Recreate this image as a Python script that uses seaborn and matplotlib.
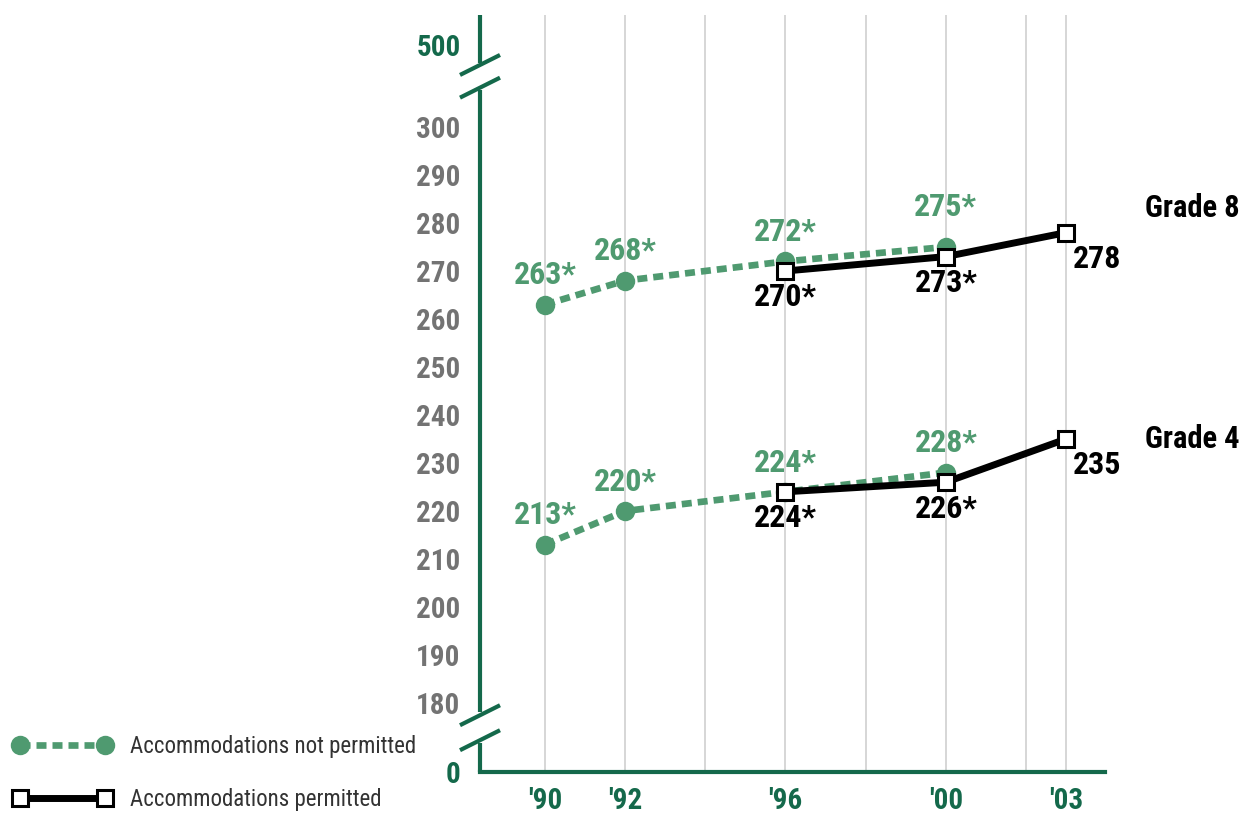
import matplotlib
matplotlib.use("Agg")
import matplotlib.pyplot as plt
import seaborn as sns
import pandas as pd
from matplotlib.lines import Line2D
from matplotlib import font_manager

# Average mathematics scale scores, grades 4 and 8
years_not_permitted = [1990, 1992, 1996, 2000]
grade8_not_permitted = [263, 268, 272, 275]
grade4_not_permitted = [213, 220, 224, 228]

years_permitted = [1996, 2000, 2003]
grade8_permitted = [270, 273, 278]
grade4_permitted = [224, 226, 235]

# '*' = significantly different from 2003
star8_not_permitted = [True, True, True, True]
star4_not_permitted = [True, True, True, True]
star8_permitted = [True, True, False]
star4_permitted = [True, True, False]

grid_years = [1990, 1992, 1994, 1996, 1998, 2000, 2002, 2003]
year_labels = {1990: "'90", 1992: "'92", 1996: "'96", 2000: "'00", 2003: "'03"}
score_ticks = list(range(180, 301, 10))
legend_labels = ["Accommodations not permitted", "Accommodations permitted"]
grade_labels = ["Grade 8", "Grade 4"]

sns.set_style("white")

# narrow face for all chart text when installed
installed = {f.name for f in font_manager.fontManager.ttflist}
narrow = next((n for n in ("Roboto Condensed", "Liberation Sans Narrow") if n in installed), None)
base = [narrow, "DejaVu Sans"] if narrow else ["Liberation Sans", "DejaVu Sans"]
plt.rcParams["font.family"] = base
scale = 1.0 if narrow else 0.88

GREEN = "#4f9a70"
DARK_GREEN = "#14694b"
GRAY = "#737373"

fig = plt.figure(figsize=(12.47, 8.17), dpi=100)
ax = fig.add_axes([480 / 1247, 45 / 817, 625 / 1247, 757 / 817])

# the 180-300 band is linear; the broken axis shows 0 at the floor and 500 near the top
Y_FLOOR, Y_TOP, Y_500 = 165.625, 323.33, 317.08
ax.set_xlim(1988.38, 2003.97)
ax.set_ylim(Y_FLOOR, Y_TOP)

green_kw = dict(color=GREEN, linewidth=4.8, linestyle=(0, (1.5, 0.9)), marker="o",
                markersize=14, markeredgewidth=0, markeredgecolor=GREEN)
black_kw = dict(color="black", linewidth=5.0, linestyle="-", marker="s", markersize=11,
                markerfacecolor="white", markeredgecolor="black", markeredgewidth=2.2)

for vals in (grade8_not_permitted, grade4_not_permitted):
    df = pd.DataFrame({"year": years_not_permitted, "score": vals})
    sns.lineplot(data=df, x="year", y="score", ax=ax, errorbar=None, zorder=3, **green_kw)
for vals in (grade8_permitted, grade4_permitted):
    df = pd.DataFrame({"year": years_permitted, "score": vals})
    sns.lineplot(data=df, x="year", y="score", ax=ax, errorbar=None, zorder=4, **black_kw)


def tag(v, star):
    return f"{v}*" if star else f"{v}"


label_font = dict(fontsize=23 * scale, fontweight="bold", ha="center", va="center")
for vals, stars in ((grade8_not_permitted, star8_not_permitted),
                    (grade4_not_permitted, star4_not_permitted)):
    for yr, v, s in zip(years_not_permitted, vals, stars):
        dy = 29 if (vals is grade8_not_permitted and yr == 2000) else 21
        ax.annotate(tag(v, s), (yr, v), xytext=(0, dy), textcoords="offset points",
                    color=GREEN, zorder=6, **label_font)
for vals, stars in ((grade8_permitted, star8_permitted),
                    (grade4_permitted, star4_permitted)):
    for yr, v, s in zip(years_permitted, vals, stars):
        dx = 22 if yr == 2003 else 0
        ax.annotate(tag(v, s), (yr, v), xytext=(dx, -19), textcoords="offset points",
                    color="black", zorder=6, **label_font)

# grade names beside the final points
for name, vals, dy in zip(grade_labels, (grade8_permitted, grade4_permitted), (18, 0)):
    ax.annotate(name, (years_permitted[-1], vals[-1]), xytext=(57, dy),
                textcoords="offset points", ha="left", va="center", fontsize=22 * scale,
                fontweight="bold", color="black")

# axes ticks and grid
ax.set_xticks(grid_years, [year_labels.get(y, "") for y in grid_years])
ax.tick_params(axis="x", length=0, pad=11, labelcolor=DARK_GREEN, labelsize=21 * scale)
for t in ax.get_xticklabels():
    t.set_fontweight("bold")
ax.grid(axis="x", color="#d6d6d6", linewidth=1.4)
ax.grid(axis="y", visible=False)
ax.set_axisbelow(True)

ax.set_yticks([Y_FLOOR] + score_ticks + [Y_500],
              ["0"] + [str(v) for v in score_ticks] + ["500"])
ax.tick_params(axis="y", length=0, pad=14, labelsize=21 * scale)
for t in ax.get_yticklabels():
    t.set_fontweight("bold")
    t.set_color(DARK_GREEN if t.get_text() in ("0", "500") else GRAY)
ax.set_xlabel("")
ax.set_ylabel("")
for s in ax.spines.values():
    s.set_visible(False)

# broken left axis and baseline
axis_kw = dict(transform=ax.transAxes, color=DARK_GREEN, linewidth=3.0, clip_on=False,
               solid_capstyle="butt", zorder=5)
ax.plot([0, 1], [0, 0], **{**axis_kw, "solid_capstyle": "projecting"})
for y0, y1 in ((0.0, 0.038), (0.079, 0.901), (0.937, 1.0)):
    ax.plot([0, 0], [y0, y1], **axis_kw)
for yc in (0.042, 0.075, 0.904, 0.934):
    ax.plot([-0.032, 0.032], [yc - 0.0132, yc + 0.0132], **axis_kw)

# legend
lsize = 16.5 if narrow else 14.5
handles = [Line2D([], [], **green_kw), Line2D([], [], **black_kw)]
fig.legend(handles, legend_labels, loc="center left", bbox_to_anchor=(13 / 1247, 44 / 817),
           numpoints=2, frameon=False, handlelength=4.2 * 17 / lsize,
           handletextpad=0.75 * 17 / lsize, borderpad=0, borderaxespad=0,
           labelspacing=1.3 * 17 / lsize, labelcolor="#333333",
           prop=dict(family=base, size=lsize))

fig.savefig("out.png", dpi=100)
